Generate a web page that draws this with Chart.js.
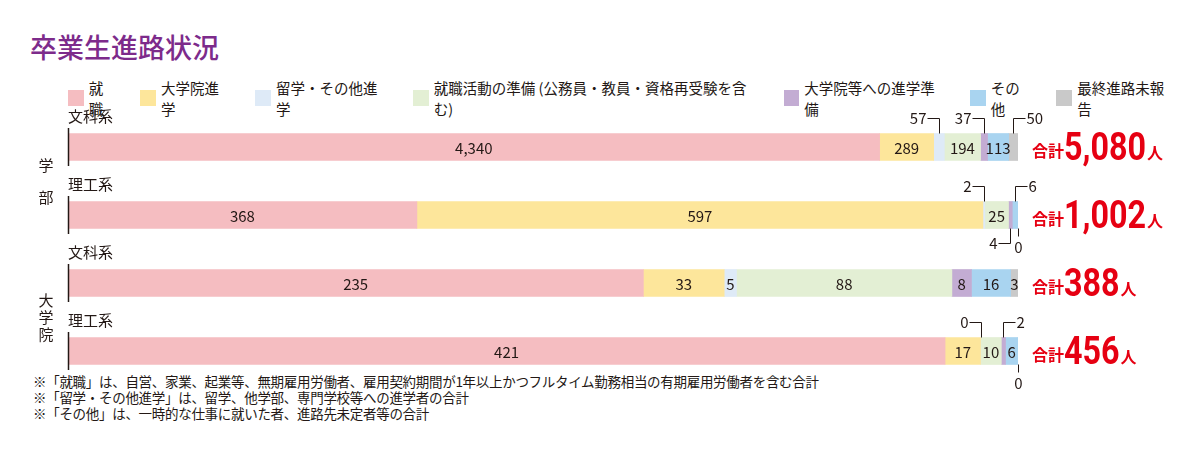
<!DOCTYPE html>
<html><head><meta charset="utf-8">
<script src="https://cdn.jsdelivr.net/npm/chart.js@4"></script>
<style>
body{margin:0;width:1200px;height:466px;background:#fff;font-family:"Noto Sans CJK JP",sans-serif;color:#231815;position:relative;overflow:hidden}
#title{position:absolute;left:30px;top:27px;font-size:27px;color:#7d2b8b;font-weight:500}
#legend{position:absolute;left:68px;top:77px;font-size:14.5px;display:flex;gap:0}
#legend span{display:flex;align-items:center;margin-right:23px}
#legend i{display:inline-block;width:16px;height:16px;margin-right:5px}
#notes{position:absolute;left:33px;top:373px;font-size:13.5px;line-height:16px;letter-spacing:-0.3px}
canvas{position:absolute;left:0;top:0}
</style></head><body>
<div id="title">卒業生進路状況</div>
<div id="legend"></div>
<div id="notes">※「就職」は、自営、家業、起業等、無期雇用労働者、雇用契約期間が1年以上かつフルタイム勤務相当の有期雇用労働者を含む合計<br>※「留学・その他進学」は、留学、他学部、専門学校等への進学者の合計<br>※「その他」は、一時的な仕事に就いた者、進路先未定者等の合計</div>
<div style="position:absolute;left:0;top:0;width:1200px;height:466px"><canvas id="c"></canvas></div>
<script>
const rows = ['学部文科系', '学部理工系', '大学院文科系', '大学院理工系'];
const rowLabels = ['文科系', '理工系', '文科系', '理工系'];
const groups = [{name: '学部', rows: [0, 1]}, {name: '大学院', rows: [2, 3]}];
const seriesNames = ['就職', '大学院進学', '留学・その他進学', '就職活動の準備（公務員・教員・資格再受験を含む）', '大学院等への進学準備', 'その他', '最終進路未報告'];
const colors = ['#f5bdc1', '#fde69b', '#deeaf7', '#e3efd4', '#c3acd3', '#a9d4f0', '#c9c9c9'];
const shuushoku = [4340, 368, 235, 421];
const daigakuin = [289, 597, 33, 17];
const ryugaku = [57, 2, 5, 0];
const junbi = [194, 25, 88, 10];
const shingakuJunbi = [37, 4, 8, 2];
const sonota = [113, 6, 16, 6];
const mihoukoku = [50, 0, 3, 0];
const totals = ['5,080', '1,002', '388', '456'];
// callouts: [row, series, side]
const callouts = [[0,2,'tl'],[0,4,'tl'],[0,6,'tr'],[1,2,'tl'],[1,5,'tr'],[1,4,'bl'],[1,6,'b'],[3,2,'tl'],[3,4,'tr'],[3,6,'b']];

const series = [shuushoku, daigakuin, ryugaku, junbi, shingakuJunbi, sonota, mihoukoku];
const sums = rows.map((_, r) => series.reduce((a, s) => a + s[r], 0));

document.getElementById('legend').innerHTML = seriesNames.map((n, i) =>
  `<span><i style="background:${colors[i]}"></i>${n.replace('（', ' (').replace('）', ')')}</span>`).join('');

const overlay = {
  id: 'overlay',
  afterDatasetsDraw(chart) {
    const ctx = chart.ctx;
    const metas = series.map((_, i) => chart.getDatasetMeta(i));
    const isCallout = (r, s) => callouts.some(c => c[0] === r && c[1] === s);
    ctx.save();
    ctx.fillStyle = '#231815';
    rows.forEach((_, r) => {
      ctx.font = '15px "Noto Sans CJK JP"';
      ctx.textAlign = 'center'; ctx.textBaseline = 'middle';
      series.forEach((s, i) => {
        if (isCallout(r, i) || s[r] === 0) return;
        const b = metas[i].data[r];
        ctx.fillText(s[r].toLocaleString(), (b.base + b.x) / 2, b.y + 1);
      });
      const b0 = metas[0].data[r];
      ctx.textAlign = 'left';
      ctx.font = '15px "Noto Sans CJK JP"';
      ctx.fillText(rowLabels[r], 68, b0.y - b0.height / 2 - 17);
      ctx.strokeStyle = '#231815'; ctx.lineWidth = 1.5;
      ctx.beginPath(); ctx.moveTo(68.5, b0.y - 19); ctx.lineTo(68.5, b0.y + 19); ctx.stroke();
      // totals
      let x = 1032;
      ctx.fillStyle = '#e60012';
      ctx.textBaseline = 'alphabetic';
      ctx.font = 'bold 16px "Noto Sans CJK JP"';
      ctx.fillText('合計', x, b0.y + 10); x += ctx.measureText('合計').width;
      ctx.font = 'bold 38px "Liberation Sans Narrow", "Roboto"';
      ctx.save(); ctx.translate(x, b0.y + 13); ctx.scale(0.85, 1);
      ctx.fillText(totals[r], 0, 0);
      x += ctx.measureText(totals[r]).width * 0.85 + 1; ctx.restore();
      ctx.font = 'bold 16px "Noto Sans CJK JP"';
      ctx.fillText('人', x, b0.y + 12);
      ctx.fillStyle = '#231815';
    });
    // callouts
    ctx.strokeStyle = '#231815'; ctx.lineWidth = 1;
    ctx.font = '15px "Noto Sans CJK JP"'; ctx.textBaseline = 'middle';
    callouts.forEach(([r, i, side]) => {
      const b = metas[i].data[r];
      const cx = Math.round((b.base + b.x) / 2) + 0.5;
      const top = b.y - b.height / 2, bot = b.y + b.height / 2;
      const txt = String(series[i][r]);
      ctx.beginPath();
      if (side === 'tl') {
        ctx.moveTo(cx, top); ctx.lineTo(cx, top - 15); ctx.lineTo(cx - 12, top - 15);
        ctx.textAlign = 'right'; ctx.fillText(txt, cx - 13, top - 15);
      } else if (side === 'tr') {
        ctx.moveTo(cx, top); ctx.lineTo(cx, top - 15); ctx.lineTo(cx + 12, top - 15);
        ctx.textAlign = 'left'; ctx.fillText(txt, cx + 13, top - 15);
      } else if (side === 'bl') {
        ctx.moveTo(cx, bot); ctx.lineTo(cx, bot + 15); ctx.lineTo(cx - 12, bot + 15);
        ctx.textAlign = 'right'; ctx.fillText(txt, cx - 13, bot + 15);
      } else {
        ctx.moveTo(cx, bot); ctx.lineTo(cx, bot + 8);
        ctx.textAlign = 'center'; ctx.fillText(txt, cx, bot + 19);
      }
      ctx.stroke();
    });
    // group labels
    ctx.font = '15px "Noto Sans CJK JP"'; ctx.textAlign = 'center';
    groups.forEach(g => {
      const y1 = metas[0].data[g.rows[0]].y, y2 = metas[0].data[g.rows[1]].y;
      const mid = (y1 + y2) / 2;
      const chars = [...g.name];
      const step = chars.length === 2 ? 32 : 17;
      chars.forEach((ch, k) => ctx.fillText(ch, 46, mid + (k - (chars.length - 1) / 2) * step));
    });
    ctx.restore();
  }
};

new Chart(document.getElementById('c'), {
  type: 'bar',
  data: {
    labels: rows,
    datasets: series.map((s, i) => ({
      label: seriesNames[i],
      data: s.map((v, r) => v / sums[r] * 100),
      backgroundColor: colors[i],
      barThickness: 27
    }))
  },
  options: {
    indexAxis: 'y',
    responsive: true, maintainAspectRatio: false, animation: false,
    layout: {padding: {left: 68, right: 182, top: 113, bottom: 81}},
    scales: {
      x: {stacked: true, min: 0, max: 100, display: false},
      y: {stacked: true, display: false}
    },
    plugins: {legend: {display: false}, tooltip: {enabled: false}}
  },
  plugins: [overlay]
});
</script>
</body></html>
